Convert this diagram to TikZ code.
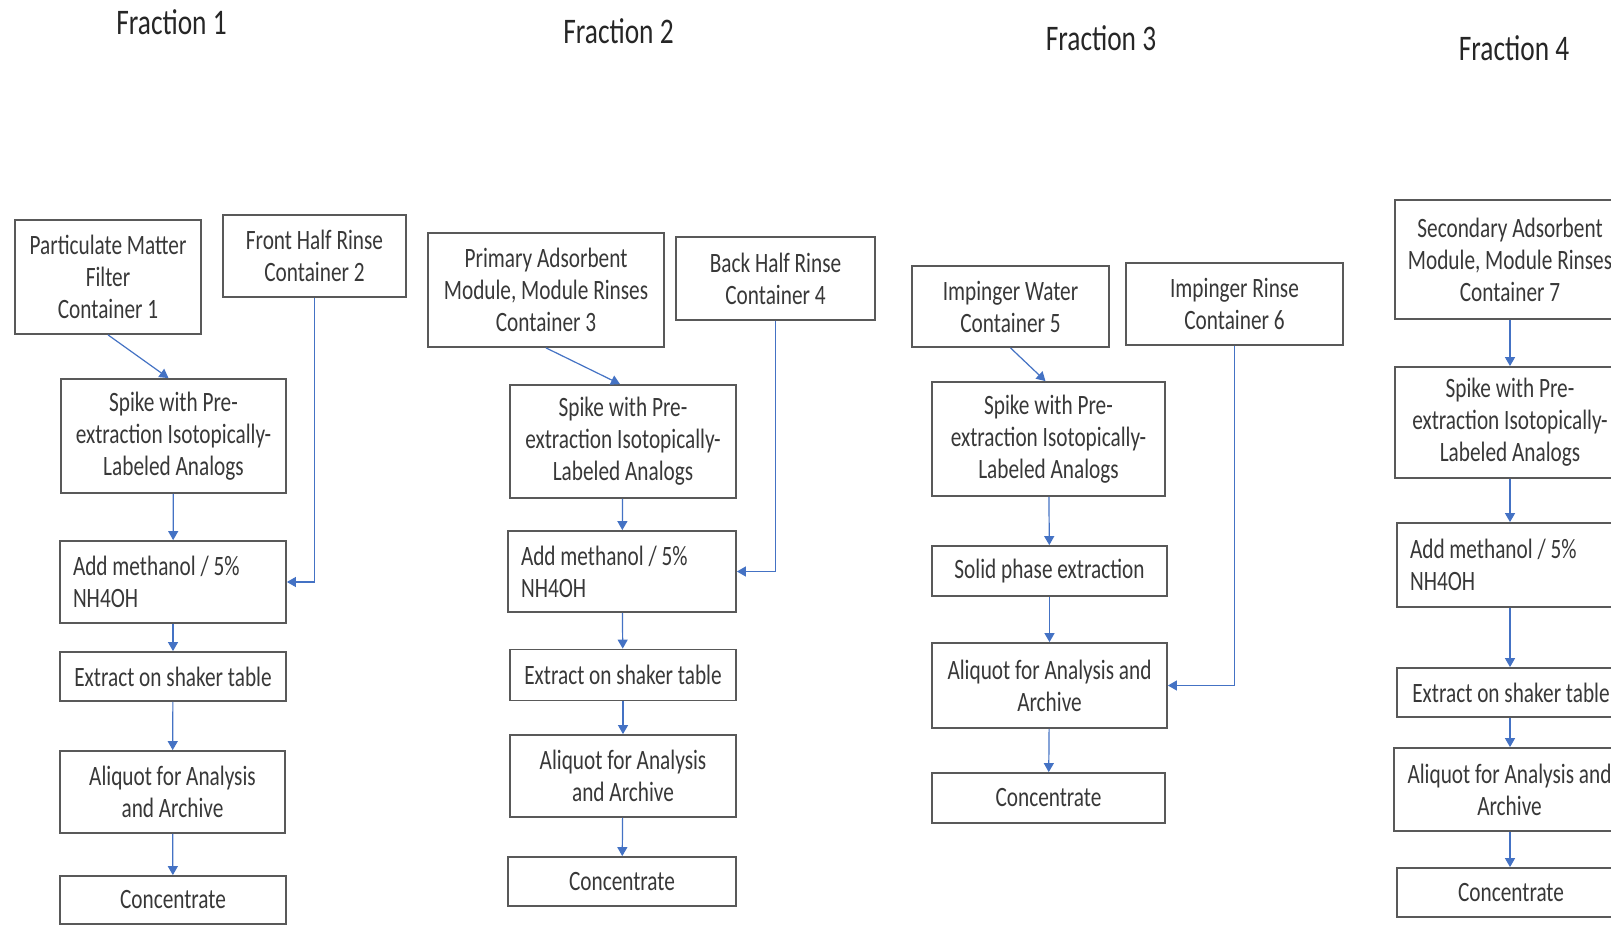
\documentclass[tikz,border=0pt]{standalone}
\usepackage{fontspec}
\setmainfont{Carlito}[FakeStretch=0.76]
\usetikzlibrary{arrows.meta}
\definecolor{arrowblue}{HTML}{4472C4}
\definecolor{boxgray}{HTML}{595959}
\definecolor{txtgray}{HTML}{383838}
\begin{document}
\begin{tikzpicture}[x=1pt,y=-1pt,
  box/.style={draw=boxgray, line width=1.8pt, fill=white, text=txtgray, align=center,
              inner sep=3pt, font=\fontsize{28}{32}\selectfont},
  sz/.style 2 args={minimum width=#1pt, minimum height=#2pt},
  lbox/.style={box, align=flush left, inner xsep=13pt},
  conn/.style={draw=arrowblue, line width=1.2pt, -{Triangle[width=10pt,length=9pt]}},
  title/.style={anchor=base, font=\fontsize{36}{40}\selectfont, text=black!85}]
\useasboundingbox (0,0) rectangle (1611,925);
\fill[white] (0,0) rectangle (1611,925);
\clip (0,0) rectangle (1611,925);

% titles
\node[title] (t1) at (171.5,35) {Fraction 1};
\node[title] (t2) at (618.5,44) {Fraction 2};
\node[title] (t3) at (1101,51) {Fraction 3};
\node[title] (t4) at (1514,61) {Fraction 4};

% Fraction 1
\node[box, sz={186}{114}] (A1) at (108,277) {Particulate Matter\\Filter\\Container 1};
\node[box, sz={183}{82}] (B1) at (314.5,256) {Front Half Rinse\\Container 2};
\node[box, sz={225}{114}] (S1) at (173.5,436) {Spike with Pre-\\extraction Isotopically-\\Labeled Analogs};
\node[lbox, text width=200pt, minimum height=82pt] (M1) at (173,582) {Add methanol / 5\%\\NH4OH};
\node[box, sz={226}{49}] (E1) at (173,676.5) {Extract on shaker table};
\node[box, sz={225}{82}] (Q1) at (172.5,792) {Aliquot for Analysis\\and Archive};
\node[box, sz={226}{48}] (C1) at (173,900) {Concentrate};

% Fraction 2
\node[box, sz={236}{114}] (A2) at (546,290) {Primary Adsorbent\\Module, Module Rinses\\Container 3};
\node[box, sz={199}{83}] (B2) at (775.5,278.5) {Back Half Rinse\\Container 4};
\node[box, sz={226}{113}] (S2) at (623,441.5) {Spike with Pre-\\extraction Isotopically-\\Labeled Analogs};
\node[lbox, text width=202pt, minimum height=81pt] (M2) at (622,571.5) {Add methanol / 5\%\\NH4OH};
\node[box, sz={226}{51}] (E2) at (623,675) {Extract on shaker table};
\node[box, sz={226}{82}] (Q2) at (623,776) {Aliquot for Analysis\\and Archive};
\node[box, sz={228}{49}] (C2) at (622,881.5) {Concentrate};

% Fraction 3
\node[box, sz={197}{81}] (A3) at (1010.5,306.5) {Impinger Water\\Container 5};
\node[box, sz={217}{82}] (B3) at (1234.5,304) {Impinger Rinse\\Container 6};
\node[box, sz={233}{114}] (S3) at (1048.5,439) {Spike with Pre-\\extraction Isotopically-\\Labeled Analogs};
\node[box, sz={235}{50}] (P3) at (1049.5,571) {Solid phase extraction};
\node[box, sz={235}{85}] (Q3) at (1049.5,685.5) {Aliquot for Analysis and\\Archive};
\node[box, sz={233}{50}] (C3) at (1048.5,798) {Concentrate};

% Fraction 4
\node[box, sz={230}{119}] (A4) at (1510,259.5) {Secondary Adsorbent\\Module, Module Rinses\\Container 7};
\node[box, sz={230}{111}] (S4) at (1510,422.5) {Spike with Pre-\\extraction Isotopically-\\Labeled Analogs};
\node[lbox, text width=202pt, minimum height=84pt] (M4) at (1511,565) {Add methanol / 5\%\\NH4OH};
\node[box, sz={228}{49}] (E4) at (1511,692.5) {Extract on shaker table};
\node[box, sz={231}{83}] (Q4) at (1509.5,789.5) {Aliquot for Analysis and\\Archive};
\node[box, sz={228}{49}] (C4) at (1511,892.5) {Concentrate};

% connectors fraction 1
\draw[conn] (A1.south) -- ([xshift=-5pt]S1.north);
\draw[conn] (S1) -- (M1);
\draw[conn] (M1) -- (E1);
\draw[conn] (E1) -- (Q1);
\draw[conn] (Q1) -- (C1);
\draw[conn] (B1.south) |- (M1.east);

% connectors fraction 2
\draw[conn] (A2.south) -- ([xshift=-3pt]S2.north);
\draw[conn] (S2) -- (M2);
\draw[conn] (M2) -- (E2);
\draw[conn] (E2) -- (Q2);
\draw[conn] (Q2) -- (C2);
\draw[conn] (B2.south) |- (M2.east);

% connectors fraction 3
\draw[conn] (A3.south) -- ([xshift=-3pt]S3.north);
\draw[conn] (S3) -- (P3);
\draw[conn] (P3) -- (Q3);
\draw[conn] (Q3) -- (C3);
\draw[conn] (B3.south) |- (Q3.east);

% connectors fraction 4
\draw[conn] (A4.south) -- (S4.north);
\draw[conn] (S4.south) -- (S4.south |- M4.north);
\draw[conn] (S4.south |- M4.south) -- (S4.south |- E4.north);
\draw[conn] (S4.south |- E4.south) -- (S4.south |- Q4.north);
\draw[conn] (S4.south |- Q4.south) -- (S4.south |- C4.north);
\end{tikzpicture}
\end{document}
